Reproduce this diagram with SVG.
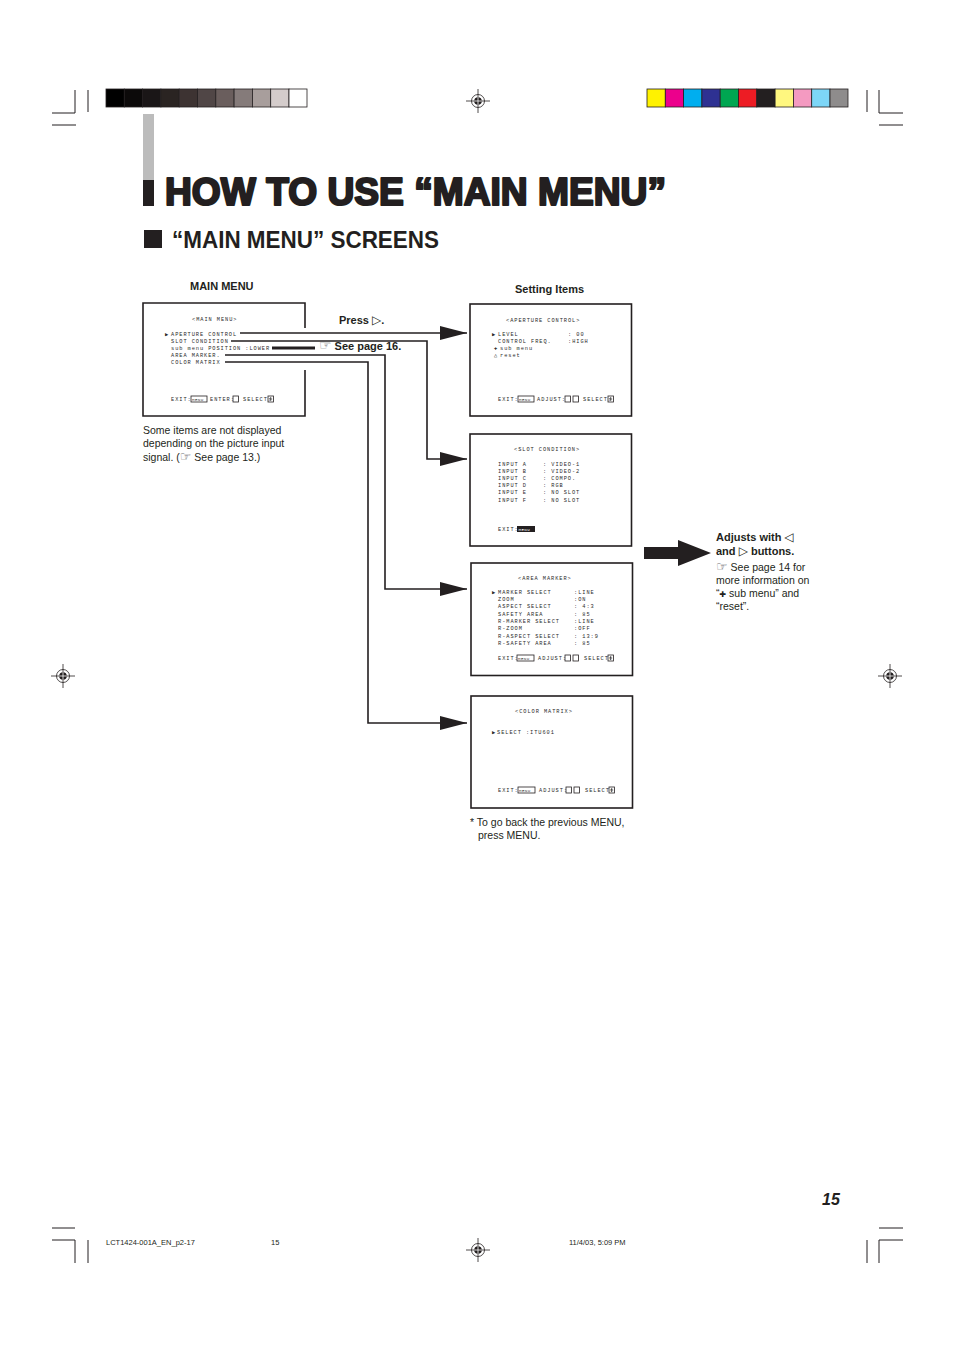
<svg xmlns="http://www.w3.org/2000/svg" width="954" height="1353" viewBox="0 0 954 1353">
<style>
.m{font-family:"Liberation Mono","DejaVu Sans Mono",monospace;font-size:5.3px;letter-spacing:0.95px;fill:#2a2a2a}
.mw{font-family:"Liberation Mono","DejaVu Sans Mono",monospace;font-size:4.2px;letter-spacing:0.4px;fill:#3a3a3a}
.s{font-family:"Liberation Sans",Arial,sans-serif;font-size:10.5px;fill:#231f20}
.b{font-family:"Liberation Sans",Arial,sans-serif;font-size:11px;font-weight:bold;fill:#231f20}
.sym{font-family:"DejaVu Sans",sans-serif;font-weight:normal}
.box{fill:#fff;stroke:#231f20;stroke-width:1.6}
.kb{fill:none;stroke:#231f20;stroke-width:0.8}
.con{fill:none;stroke:#231f20;stroke-width:1.6}
.crop{stroke:#231f20;stroke-width:1;fill:none}
</style>
<defs>
<marker id="ah" markerUnits="userSpaceOnUse" markerWidth="28" markerHeight="16" refX="27" refY="7" orient="auto">
<path d="M0,0 L27,7 L0,14 z" fill="#231f20"/>
</marker>
<g id="reg">
<circle r="6.5" fill="none" stroke="#231f20" stroke-width="0.8"/>
<circle r="3.8" fill="#231f20"/>
<path d="M-12,0 H12 M0,-12 V12" stroke="#231f20" stroke-width="0.8"/>
<path d="M-3.8,0 H3.8 M0,-3.8 V3.8" stroke="#fff" stroke-width="0.8"/>
</g>
</defs>
<rect width="954" height="1353" fill="#fff"/>

<!-- crop marks -->
<g id="cropmarks" class="crop">
<path d="M75,90 V113 H52 M88,90 V112 M52,125 H76"/>
<path d="M879,90 V113 H903 M867,90 V112 M879,125 H903"/>
<path d="M52,1228 H75 M52,1240 H75 V1263 M88,1240 V1263"/>
<path d="M879,1228 H903 M903,1240 H879 V1263 M867,1240 V1263"/>
</g>
<use href="#reg" x="478" y="101"/>
<use href="#reg" x="63" y="676"/>
<use href="#reg" x="890" y="676"/>
<use href="#reg" x="478" y="1250"/>

<!-- colour bars -->
<g id="graybar" stroke="#231f20" stroke-width="0.8">
<rect x="106" y="89" width="18.3" height="18" fill="#000"/>
<rect x="124.3" y="89" width="18.3" height="18" fill="#0c0a0a"/>
<rect x="142.6" y="89" width="18.3" height="18" fill="#1a1617"/>
<rect x="160.9" y="89" width="18.3" height="18" fill="#2a2422"/>
<rect x="179.2" y="89" width="18.3" height="18" fill="#3d3332"/>
<rect x="197.5" y="89" width="18.3" height="18" fill="#504646"/>
<rect x="215.8" y="89" width="18.3" height="18" fill="#6a5e5d"/>
<rect x="234.1" y="89" width="18.3" height="18" fill="#857b7a"/>
<rect x="252.4" y="89" width="18.3" height="18" fill="#a89e9c"/>
<rect x="270.7" y="89" width="18.3" height="18" fill="#d4cccb"/>
<rect x="289" y="89" width="18" height="18" fill="#fff"/>
</g>
<g id="colorbar" stroke="#231f20" stroke-width="0.8">
<rect x="647" y="89" width="18.3" height="18" fill="#fff200"/>
<rect x="665.3" y="89" width="18.3" height="18" fill="#ec008c"/>
<rect x="683.6" y="89" width="18.3" height="18" fill="#00aeef"/>
<rect x="701.9" y="89" width="18.3" height="18" fill="#2e3192"/>
<rect x="720.2" y="89" width="18.3" height="18" fill="#00a651"/>
<rect x="738.5" y="89" width="18.3" height="18" fill="#ed1c24"/>
<rect x="756.8" y="89" width="18.3" height="18" fill="#231f20"/>
<rect x="775.1" y="89" width="18.3" height="18" fill="#fff77f"/>
<rect x="793.4" y="89" width="18.3" height="18" fill="#f49ac1"/>
<rect x="811.7" y="89" width="18.3" height="18" fill="#7dd6f7"/>
<rect x="830" y="89" width="18" height="18" fill="#8e8c8c"/>
</g>

<!-- title -->
<g id="title">
<rect x="143" y="114" width="11" height="66" fill="#bcbcbc"/>
<rect x="143" y="180" width="11" height="26" fill="#231f20"/>
<text x="165" y="205" font-family="'Liberation Sans',Arial,sans-serif" font-size="38" font-weight="bold" fill="#231f20" stroke="#231f20" stroke-width="2.2" stroke-linejoin="round" textLength="501" lengthAdjust="spacingAndGlyphs">HOW TO USE “MAIN MENU”</text>
<rect x="144" y="230" width="18" height="18" fill="#231f20"/>
<text x="172" y="248" font-family="'Liberation Sans',Arial,sans-serif" font-size="23" font-weight="bold" fill="#231f20" textLength="267" lengthAdjust="spacingAndGlyphs">“MAIN MENU” SCREENS</text>
</g>

<text class="b" x="190" y="290">MAIN MENU</text>
<text class="b" x="515" y="293">Setting Items</text>

<!-- main menu -->
<g id="main-menu">
<path d="M305,328 V303 H143 V416 H305 V370" fill="#fff" stroke="#231f20" stroke-width="1.6"/>
<text class="m" x="192" y="321">&lt;MAIN MENU&gt;</text>
<text class="m" x="165" y="336">▶</text>
<text class="m" x="171" y="336">APERTURE CONTROL</text>
<text class="m" x="171" y="343">SLOT CONDITION</text>
<text class="m" x="171" y="350">sub menu POSITION :LOWER</text>
<text class="m" x="171" y="357">AREA MARKER.</text>
<text class="m" x="171" y="364">COLOR MATRIX</text>
<text class="m" x="171" y="401">EXIT:</text>
<rect class="kb" x="191" y="396" width="16" height="6"/>
<text class="mw" x="192" y="401">MENU</text>
<text class="m" x="210" y="401">ENTER:</text>
<rect class="kb" x="233" y="396" width="5.5" height="6"/>
<text class="m" x="243" y="401">SELECT:</text>
<rect class="kb" x="268" y="396" width="5.5" height="6"/>
<path d="M270.7,397 V401 M269.2,399 H272.2" stroke="#231f20" stroke-width="0.7"/>
</g>

<!-- connectors -->
<g id="connectors">
<path class="con" d="M240,333 H467" marker-end="url(#ah)"/>
<path class="con" d="M231,341 H427 V459 H467" marker-end="url(#ah)"/>
<path d="M272,348 H315" stroke="#231f20" stroke-width="3"/>
<path class="con" d="M225,355 H385 V589 H467" marker-end="url(#ah)"/>
<path class="con" d="M225,362 H368 V723 H467" marker-end="url(#ah)"/>
</g>
<text class="b" x="339" y="324">Press <tspan class="sym" font-size="12">▷</tspan>.</text>
<text class="b" x="319" y="350"><tspan class="sym" font-size="14" fill="#6d6e71">☞</tspan> See page 16.</text>

<text class="s" x="143" y="434">Some items are not displayed</text>
<text class="s" x="143" y="447">depending on the picture input</text>
<text class="s" x="143" y="461">signal. (<tspan class="sym" font-size="13" fill="#6d6e71">☞</tspan> See page 13.)</text>

<!-- aperture control -->
<g id="aperture-control">
<rect class="box" x="470" y="304" width="161.5" height="112"/>
<text class="m" x="506" y="322">&lt;APERTURE CONTROL&gt;</text>
<text class="m" x="492" y="336">▶</text>
<text class="m" x="498" y="336">LEVEL</text>
<text class="m" x="568" y="336">: 00</text>
<text class="m" x="498" y="343">CONTROL FREQ.</text>
<text class="m" x="568" y="343">:HIGH</text>
<text class="m" x="494" y="350">✚</text>
<text class="m" x="500" y="350">sub menu</text>
<text class="m" x="494" y="357">△</text>
<text class="m" x="500" y="357">reset</text>
<text class="m" x="498" y="401">EXIT:</text>
<rect class="kb" x="518" y="396" width="16" height="6"/>
<text class="mw" x="519" y="401">MENU</text>
<text class="m" x="537" y="401">ADJUST:</text>
<rect class="kb" x="565" y="396" width="5.5" height="6"/>
<rect class="kb" x="573" y="396" width="5.5" height="6"/>
<text class="m" x="583" y="401">SELECT:</text>
<rect class="kb" x="608" y="396" width="5.5" height="6"/>
<path d="M610.7,397 V401 M609.2,399 H612.2" stroke="#231f20" stroke-width="0.7"/>
</g>

<!-- slot condition -->
<g id="slot-condition">
<rect class="box" x="470" y="434" width="161.5" height="112"/>
<text class="m" x="514" y="451">&lt;SLOT CONDITION&gt;</text>
<text class="m" x="498" y="466">INPUT A</text><text class="m" x="543" y="466">: VIDEO-1</text>
<text class="m" x="498" y="473">INPUT B</text><text class="m" x="543" y="473">: VIDEO-2</text>
<text class="m" x="498" y="480">INPUT C</text><text class="m" x="543" y="480">: COMPO.</text>
<text class="m" x="498" y="487">INPUT D</text><text class="m" x="543" y="487">: RGB</text>
<text class="m" x="498" y="494">INPUT E</text><text class="m" x="543" y="494">: NO SLOT</text>
<text class="m" x="498" y="502">INPUT F</text><text class="m" x="543" y="502">: NO SLOT</text>
<text class="m" x="498" y="531">EXIT:</text>
<rect x="517" y="526" width="18" height="6" fill="#231f20"/>
<text class="mw" x="518.5" y="531" style="fill:#fff">MENU</text>
</g>

<!-- area marker -->
<g id="area-marker">
<rect class="box" x="471" y="563" width="161.5" height="112.5"/>
<text class="m" x="518" y="580">&lt;AREA MARKER&gt;</text>
<text class="m" x="492" y="594">▶</text>
<text class="m" x="498" y="594">MARKER SELECT</text><text class="m" x="574" y="594">:LINE</text>
<text class="m" x="498" y="601">ZOOM</text><text class="m" x="574" y="601">:ON</text>
<text class="m" x="498" y="608">ASPECT SELECT</text><text class="m" x="574" y="608">: 4:3</text>
<text class="m" x="498" y="616">SAFETY AREA</text><text class="m" x="574" y="616">: 85</text>
<text class="m" x="498" y="623">R-MARKER SELECT</text><text class="m" x="574" y="623">:LINE</text>
<text class="m" x="498" y="630">R-ZOOM</text><text class="m" x="574" y="630">:OFF</text>
<text class="m" x="498" y="638">R-ASPECT SELECT</text><text class="m" x="574" y="638">: 13:9</text>
<text class="m" x="498" y="645">R-SAFETY AREA</text><text class="m" x="574" y="645">: 85</text>
<text class="m" x="498" y="660">EXIT:</text>
<rect class="kb" x="517" y="655" width="17" height="6"/>
<text class="mw" x="518" y="660">MENU</text>
<text class="m" x="538" y="660">ADJUST:</text>
<rect class="kb" x="565" y="655" width="5.5" height="6"/>
<rect class="kb" x="573" y="655" width="5.5" height="6"/>
<text class="m" x="584" y="660">SELECT:</text>
<rect class="kb" x="608" y="655" width="5.5" height="6"/>
<path d="M610.7,656 V660 M609.2,658 H612.2" stroke="#231f20" stroke-width="0.7"/>
</g>

<!-- color matrix -->
<g id="color-matrix">
<rect class="box" x="471" y="696" width="161.5" height="112"/>
<text class="m" x="515" y="713">&lt;COLOR MATRIX&gt;</text>
<text class="m" x="492" y="734">▶</text>
<text class="m" x="497" y="734">SELECT :ITU601</text>
<text class="m" x="498" y="792">EXIT:</text>
<rect class="kb" x="518" y="787" width="17" height="6"/>
<text class="mw" x="519" y="792">MENU</text>
<text class="m" x="539" y="792">ADJUST:</text>
<rect class="kb" x="566" y="787" width="5.5" height="6"/>
<rect class="kb" x="574" y="787" width="5.5" height="6"/>
<text class="m" x="585" y="792">SELECT:</text>
<rect class="kb" x="609" y="787" width="5.5" height="6"/>
<path d="M611.7,788 V792 M610.2,790 H613.2" stroke="#231f20" stroke-width="0.7"/>
</g>
<text class="s" x="470" y="826">* To go back the previous MENU,</text>
<text class="s" x="478" y="839">press MENU.</text>

<!-- big arrow and note -->
<g id="adjust-note">
<polygon points="644,547 678,547 678,540 711,553 678,566 678,559 644,559" fill="#231f20"/>
<text class="b" x="716" y="541">Adjusts with <tspan class="sym" font-size="12">◁</tspan></text>
<text class="b" x="716" y="555">and <tspan class="sym" font-size="12">▷</tspan> buttons.</text>
<text class="s" x="716" y="571"><tspan class="sym" font-size="13" fill="#6d6e71">☞</tspan> See page 14 for</text>
<text class="s" x="716" y="584">more information on</text>
<text class="s" x="716" y="597">“<tspan class="sym" font-size="8">✚</tspan> sub menu” and</text>
<text class="s" x="716" y="610">“reset”.</text>
</g>

<!-- page number & footer -->
<text x="822" y="1205" font-family="'Liberation Sans',Arial,sans-serif" font-size="16" font-weight="bold" font-style="italic" fill="#231f20">15</text>
<g font-family="'Liberation Sans',Arial,sans-serif" font-size="7.5" fill="#231f20">
<text x="106" y="1245">LCT1424-001A_EN_p2-17</text>
<text x="271" y="1245">15</text>
<text x="569" y="1245">11/4/03, 5:09 PM</text>
</g>
</svg>
